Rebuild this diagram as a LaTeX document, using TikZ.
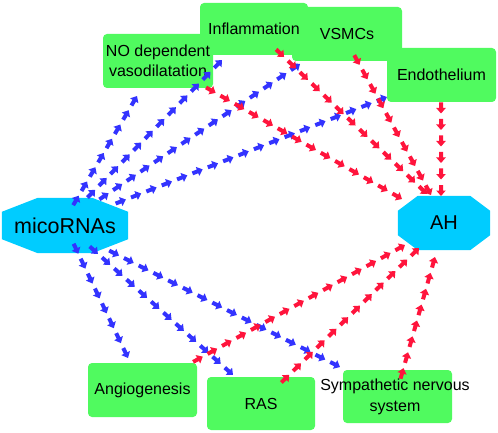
\documentclass[tikz,border=0pt]{standalone}
\usepackage{fontspec}
\setmainfont{Liberation Sans}
\usetikzlibrary{decorations.markings,calc,backgrounds}
\definecolor{boxgreen}{RGB}{80,250,95}
\definecolor{octcyan}{RGB}{0,204,255}
\definecolor{arrblue}{RGB}{51,51,255}
\definecolor{arrred}{RGB}{255,20,60}
\tikzset{
  factor/.style={fill=boxgreen, rounded corners=4pt, inner sep=0pt, align=center,
    font=\fontsize{16}{20}\selectfont},
  hub/.style={inner sep=0pt},
  arrowdashes/.style={decorate, decoration={markings,
     mark=between positions 0 and 1 step 16.5pt with {
       \pgfmathsetmacro\arroff{mod(\pgfdecoratedpathlength,16.5)}
       \fill[#1, xshift=\arroff pt] (-11pt,-2pt) -- (-5.5pt,-2pt) -- (-5.5pt,-4.8pt)
         -- (0pt,0pt) -- (-5.5pt,4.8pt) -- (-5.5pt,2pt) -- (-11pt,2pt) -- cycle;
     }}},
  bluelink/.style={arrowdashes=arrblue},
  redlink/.style={arrowdashes=arrred},
}
\begin{document}
\begin{tikzpicture}[x=1pt,y=-1pt]
\useasboundingbox (0,0) rectangle (498,433);
% hubs
\node[hub, minimum width=126pt, minimum height=55pt, font=\fontsize{21.5}{24}\selectfont] (mir) at (65,225.5) {micoRNAs};
\node[hub, minimum width=92pt, minimum height=54pt, font=\fontsize{20}{24}\selectfont] (ah) at (444,223) {AH};
\begin{scope}[on background layer]
\fill[octcyan] ($(mir.north west)+(36,0)$) -- ($(mir.north east)+(-36,0)$) -- ($(mir.north east)+(0,14)$)
  -- ($(mir.south east)+(0,-14)$) -- ($(mir.south east)+(-36,0)$) -- ($(mir.south west)+(36,0)$)
  -- ($(mir.south west)+(0,-14)$) -- ($(mir.north west)+(0,14)$) -- cycle;
\fill[octcyan] ($(ah.north west)+(20,0)$) -- ($(ah.north east)+(-20,0)$) -- ($(ah.north east)+(0,15)$)
  -- ($(ah.south east)+(0,-15)$) -- ($(ah.south east)+(-20,0)$) -- ($(ah.south west)+(20,0)$)
  -- ($(ah.south west)+(0,-15)$) -- ($(ah.north west)+(0,15)$) -- cycle;
\end{scope}
% factor boxes
\node[factor, minimum width=110pt, minimum height=54pt] (vsmc) at (347,34) {VSMCs};
\node[factor, minimum width=108pt, minimum height=52pt] (infl) at (254,29) {Inflammation};
\node[factor, minimum width=110pt, minimum height=54pt] (nodv) at (158,61) {NO dependent\\vasodilatation};
\node[factor, minimum width=109pt, minimum height=54pt] (endo) at (441.5,75) {Endothelium};
\node[factor, minimum width=109pt, minimum height=54pt] (angio) at (142.5,390) {Angiogenesis};
\node[factor, minimum width=108pt, minimum height=53pt] (ras) at (261,403.5) {RAS};
\node[factor, minimum width=109pt, minimum height=53pt] (sns) at (397.5,396.5) {};
% blue connectors
\path[bluelink] ($(mir.center)+(13,-28.5)$) -- ($(nodv.center)+(-21,35)$);
\path[bluelink] ($(mir.center)+(23,-28.5)$) -- ($(infl.center)+(-32,31)$);
\path[bluelink] ($(mir.center)+(35,-26.5)$) -- ($(vsmc.center)+(-47,30)$);
\path[bluelink] ($(mir.center)+(52,-22.5)$) -- ($(endo.center)+(-54.5,22)$);
\path[bluelink] ($(mir.center)+(13,27.5)$) -- ($(angio.center)+(-14.5,-32)$);
\path[bluelink] ($(mir.center)+(32,27.5)$) -- ($(ras.center)+(-28,-28.5)$);
\path[bluelink] ($(mir.center)+(43,24.5)$) -- ($(sns.center)+(-57.5,-29.5)$);
% red connectors
\path[redlink] ($(nodv.center)+(49,27)$) -- ($(ah.center)+(-42,-24)$);
\path[redlink] ($(infl.center)+(29,27)$) -- ($(ah.center)+(-17,-29)$);
\path[redlink] ($(vsmc.center)+(11,28)$) -- ($(ah.center)+(-13,-28)$);
\path[redlink] ($(endo.center)+(-0.5,27)$) -- ($(ah.center)+(-3,-27)$);
\path[redlink] ($(angio.center)+(50.5,-28)$) -- ($(ah.center)+(-39,22)$);
\path[redlink] ($(ras.center)+(27,-27.5)$) -- ($(ah.center)+(-25,25)$);
\path[redlink] ($(sns.center)+(5.5,-26.5)$) -- ($(ah.center)+(-9,34)$);
% text of the sympathetic box, wider than the box
\node[align=center, inner sep=0pt, font=\fontsize{16}{21}\selectfont] (snstext) at (395,397) {Sympathetic nervous\\system};
\end{tikzpicture}
\end{document}
